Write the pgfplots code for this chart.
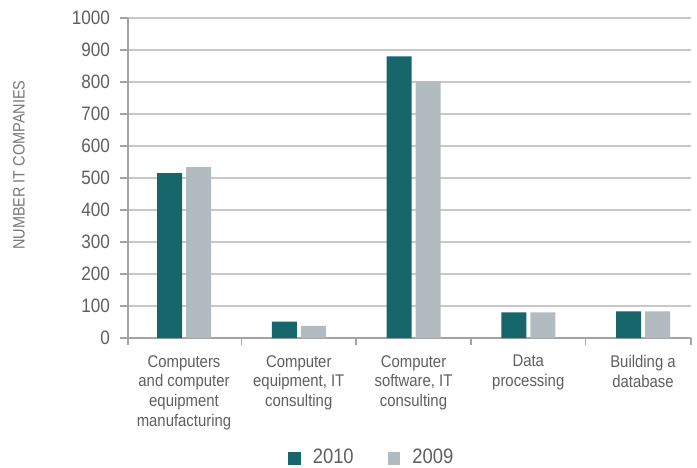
\documentclass[border=0pt]{standalone}
\usepackage{fontspec}
\setmainfont{Liberation Sans}
\newfontfamily\nfont{Liberation Sans}[FakeStretch=0.88]
\usepackage{pgfplots}
\pgfplotsset{compat=1.18}

\definecolor{teal10}{HTML}{17666B}
\definecolor{grey09}{HTML}{B1BBC0}
\definecolor{gridc}{HTML}{C8C8C8}
\definecolor{axisc}{HTML}{A3A3A3}
\definecolor{txt}{HTML}{5F5F5F}

\begin{document}
\begin{tikzpicture}
\begin{axis}[
    scale only axis,
    width=563bp, height=320bp,
    ybar=4bp,
    bar width=25bp,
    xmin=-0.488, xmax=4.418,
    ymin=0, ymax=1000,
    ytick={0,100,...,1000},
    xtick={0,1,2,3,4},
    xticklabels={{Computers\\and computer\\equipment\\manufacturing},
                 {Computer\\equipment, IT\\consulting},
                 {Computer\\software, IT\\consulting},
                 {Data\\processing},
                 {Building a\\database}},
    minor xtick={-0.488,0.5,1.5,2.5,3.5,4.418},
    axis x line*=bottom,
    axis y line*=left,
    axis line style={-, draw=axisc, line width=1.6bp},
    tick align=outside,
    major x tick style={draw=none},
    minor x tick style={draw=axisc, line width=1.6bp},
    minor tick length=7bp,
    major tick length=8bp,
    y tick style={draw=axisc, line width=1.6bp},
    ymajorgrids,
    major grid style={draw=gridc, line width=1.3bp},
    /pgf/number format/assume math mode=true,
    /pgf/number format/1000 sep={},
    yticklabel style={font=\nfont\fontsize{19.5}{20}\selectfont, text=txt, inner sep=0pt, xshift=-10bp},
    xticklabel style={font=\nfont\fontsize{17}{20}\selectfont, text=txt, align=center,
                      inner sep=0pt, yshift=-9bp},
    ylabel={NUMBER IT COMPANIES},
    every axis y label/.style={at={(axis description cs:-0.1936,0.54)}, rotate=90,
        anchor=center, font=\nfont\fontsize{16.5}{18}\selectfont, text=txt!85},
    legend columns=2,
    legend style={draw=none, fill=none, at={(rel axis cs:0.284,-0.372)}, anchor=west,
        inner sep=0pt, font=\nfont\fontsize{21}{22}\selectfont, text=txt,
        nodes={inner sep=0pt},
        /tikz/every odd column/.append style={column sep=12bp},
        /tikz/every even column/.append style={column sep=34bp}},
    legend image code/.code={\fill[#1] (0bp,-8bp) rectangle (12.7bp,4.7bp);},
]
\addplot[draw=none, fill=teal10] coordinates {
    (0,515) (1,51) (2,880) (3,80) (4,83)
};
\addplot[draw=none, fill=grey09] coordinates {
    (0,534) (1,38) (2,803) (3,80) (4,83)
};
\legend{2010, 2009}
\end{axis}
\pgfresetboundingbox
\path[use as bounding box] (current axis.south west) ++(-128bp,-130bp) rectangle ++(697bp,468bp);
\end{tikzpicture}
\end{document}
